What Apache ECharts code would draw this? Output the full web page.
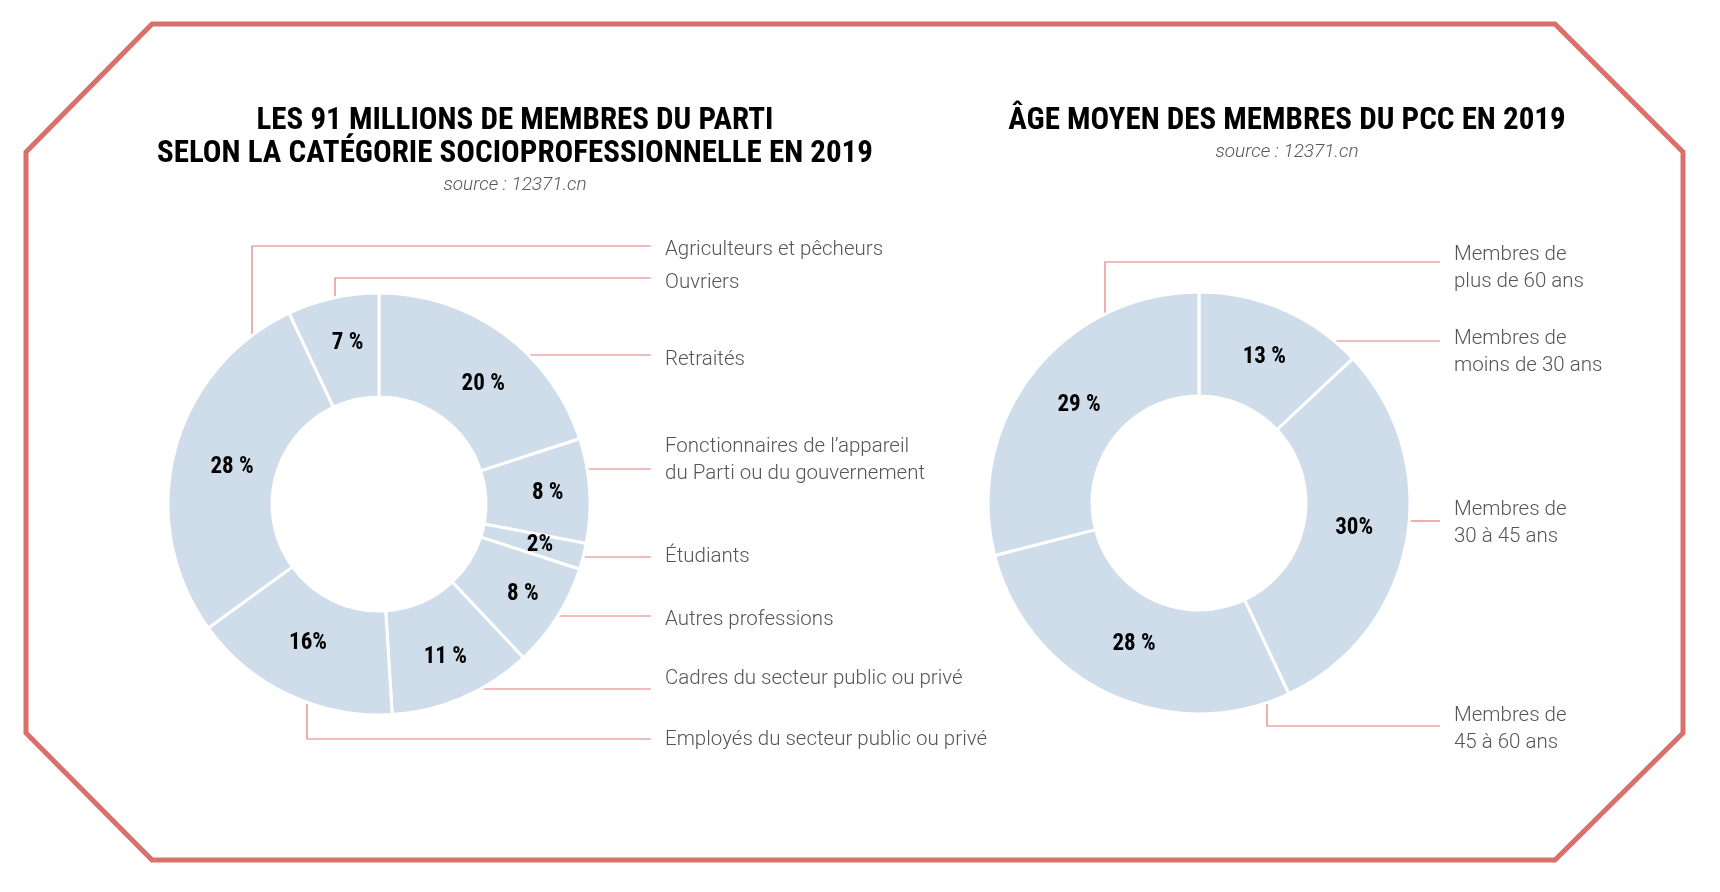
<!DOCTYPE html>
<html>
<head>
<meta charset="utf-8">
<script src="https://cdn.jsdelivr.net/npm/echarts@6/dist/echarts.min.js"></script>
<style>
  html, body { margin: 0; padding: 0; background: #fff; }
  #chart { width: 1720px; height: 892px; }
</style>
</head>
<body>
<div id="chart"></div>
<script>
// ---------- Data ----------
var leftTitle = 'LES 91 MILLIONS DE MEMBRES DU PARTI\nSELON LA CATÉGORIE SOCIOPROFESSIONNELLE EN 2019';
var rightTitle = 'ÂGE MOYEN DES MEMBRES DU PCC EN 2019';
var sourceText = 'source : 12371.cn';

var leftCategories = [
  'Retraités',
  'Fonctionnaires de l’appareil\ndu Parti ou du gouvernement',
  'Étudiants',
  'Autres professions',
  'Cadres du secteur public ou privé',
  'Employés du secteur public ou privé',
  'Agriculteurs et pêcheurs',
  'Ouvriers'
];
var leftValues = [20, 8, 2, 8, 11, 16, 28, 7];
var leftValueLabels = ['20 %', '8 %', '2%', '8 %', '11 %', '16%', '28 %', '7 %'];

var rightCategories = [
  'Membres de\nmoins de 30 ans',
  'Membres de\n30 à 45 ans',
  'Membres de\n45 à 60 ans',
  'Membres de\nplus de 60 ans'
];
var rightValues = [13, 30, 28, 29];
var rightValueLabels = ['13 %', '30%', '28 %', '29 %'];

// ---------- Layout (annotation placement, relative to each donut centre) ----------
var R_IN = 107, R_OUT = 211;
var leftCenter = [379, 504];
var rightCenter = [1199, 503];
// vx: x of vertical leader segment (null = straight horizontal leader), ly: leader y, ty: label y
var leftLeaders = [
  { vx: null, ly: -149, ty: -144 },
  { vx: null, ly: -35,  ty: -44 },
  { vx: null, ly: 53,   ty: 53 },
  { vx: null, ly: 112,  ty: 116 },
  { vx: null, ly: 185,  ty: 175 },
  { vx: -72,  ly: 235,  ty: 236 },
  { vx: -127, ly: -258, ty: -254 },
  { vx: -44,  ly: -226, ty: -221 }
];
var leftEnd = { lineX: 272, textX: 286 };
var rightLeaders = [
  { vx: null, ly: -162, ty: -151 },
  { vx: null, ly: 18,   ty: 20 },
  { vx: 68,   ly: 223,  ty: 226 },
  { vx: -94,  ly: -241, ty: -235 }
];
var rightEnd = { lineX: 241, textX: 255 };
// nudges of the in-ring percentage labels (px)
var leftValueNudge = [[9, 11], [7, -1], [4, 1], [7, 3], [2, 5], [-2, -7], [10, 4], [4, -3]];
var rightValueNudge = [[1, 3], [-4, -5], [4, -5], [8, 2]];

// ---------- Styles ----------
var SLICE = '#cfdcea';
var LEADER = '#e27b7b';
var FRAME = '#d9706b';
var LABEL_FONT = 'Roboto, "Open Sans", sans-serif';
var TITLE_FONT = '"Roboto Condensed", Roboto, sans-serif';

function toData(names, values, nudges) {
  return names.map(function (n, i) {
    var d = { name: n, value: values[i] };
    if (nudges) d.label = { offset: nudges[i] };
    return d;
  });
}

function leaderLayout(center, leaders, end) {
  return function (params) {
    var L = leaders[params.dataIndex];
    var cx = center[0], cy = center[1];
    var pts;
    if (L.vx == null) {
      var sx = cx + Math.sqrt(R_OUT * R_OUT - L.ly * L.ly);
      pts = [[sx, cy + L.ly], [sx, cy + L.ly], [cx + end.lineX, cy + L.ly]];
    } else {
      var sgn = L.ly < 0 ? -1 : 1;
      var sy = cy + sgn * Math.sqrt(R_OUT * R_OUT - L.vx * L.vx);
      pts = [[cx + L.vx, sy], [cx + L.vx, cy + L.ly], [cx + end.lineX, cy + L.ly]];
    }
    return {
      x: cx + end.textX,
      y: cy + L.ty,
      align: 'left',
      verticalAlign: 'middle',
      labelLinePoints: pts
    };
  };
}

function donut(center, names, values, valueLabels, nudges) {
  return {
    type: 'pie',
    center: center,
    radius: [R_IN, R_OUT],
    startAngle: 90,
    clockwise: true,
    avoidLabelOverlap: false,
    silent: true,
    animation: false,
    itemStyle: { color: SLICE, borderColor: '#ffffff', borderWidth: 3 },
    label: {
      show: true,
      position: 'inside',
      formatter: function (p) { return valueLabels[p.dataIndex]; },
      color: '#000',
      fontFamily: TITLE_FONT,
      fontWeight: 'bold',
      fontSize: 23
    },
    labelLine: { show: false },
    emphasis: { disabled: true },
    data: toData(names, values, nudges)
  };
}

function annot(center, names, values, leaders, end) {
  return {
    type: 'pie',
    center: center,
    radius: [R_IN, R_OUT],
    startAngle: 90,
    clockwise: true,
    avoidLabelOverlap: false,
    silent: true,
    animation: false,
    itemStyle: { color: 'rgba(0,0,0,0)', borderWidth: 0 },
    label: {
      show: true,
      position: 'outside',
      color: '#555',
      fontFamily: LABEL_FONT,
      fontWeight: 300,
      fontSize: 20.5,
      lineHeight: 27
    },
    labelLine: { show: true, length: 10, length2: 10, lineStyle: { color: LEADER, width: 1.2 } },
    labelLayout: leaderLayout(center, leaders, end),
    emphasis: { disabled: true },
    data: toData(names, values)
  };
}

var chart = echarts.init(document.getElementById('chart'), null, { renderer: 'canvas' });
chart.setOption({
  backgroundColor: '#ffffff',
  animation: false,
  title: [
    {
      text: leftTitle,
      subtext: sourceText,
      left: 510,
      top: 100,
      textAlign: 'center',
      itemGap: 3,
      textStyle: { fontFamily: TITLE_FONT, fontWeight: 'bold', fontSize: 31, lineHeight: 33, color: '#000' },
      subtextStyle: { fontFamily: LABEL_FONT, fontStyle: 'italic', fontWeight: 300, fontSize: 19, lineHeight: 22, color: '#555' }
    },
    {
      text: rightTitle,
      subtext: sourceText,
      left: 1282,
      top: 100,
      textAlign: 'center',
      itemGap: 3,
      textStyle: { fontFamily: TITLE_FONT, fontWeight: 'bold', fontSize: 31, lineHeight: 33, color: '#000' },
      subtextStyle: { fontFamily: LABEL_FONT, fontStyle: 'italic', fontWeight: 300, fontSize: 19, lineHeight: 22, color: '#555' }
    }
  ],
  graphic: [
    {
      type: 'polygon',
      silent: true,
      z: -1,
      shape: { points: [[152, 24], [1555, 24], [1683, 152], [1683, 733], [1555, 860], [152, 860], [26, 733], [26, 152]] },
      style: { fill: 'none', stroke: FRAME, lineWidth: 5, lineJoin: 'miter' }
    }
  ],
  series: [
    donut(leftCenter, leftCategories, leftValues, leftValueLabels, leftValueNudge),
    annot(leftCenter, leftCategories, leftValues, leftLeaders, leftEnd),
    donut(rightCenter, rightCategories, rightValues, rightValueLabels, rightValueNudge),
    annot(rightCenter, rightCategories, rightValues, rightLeaders, rightEnd)
  ]
});
</script>
</body>
</html>
